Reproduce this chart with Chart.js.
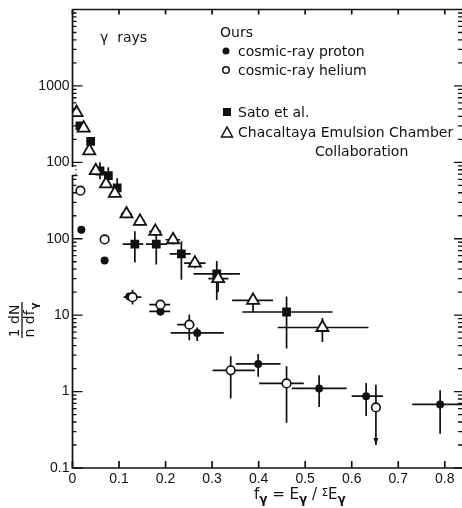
<!DOCTYPE html>
<html>
<head>
<meta charset="utf-8">
<script src="https://cdn.jsdelivr.net/npm/chart.js@4.4.1/dist/chart.umd.min.js"></script>
<style>
  html, body { margin: 0; padding: 0; background: #fff; }
</style>
</head>
<body>
<canvas id="gammaChart" width="462" height="508"></canvas>
<script>
// ---------------- data ----------------
const xTickValues = [0, 0.1, 0.2, 0.3, 0.4, 0.5, 0.6, 0.7, 0.8];
const xTickLabels = ['0', '0.1', '0.2', '0.3', '0.4', '0.5', '0.6', '0.7', '0.8'];
const yTickValues = [0.1, 1, 10, 100, 1000, 10000];
const yTickLabels = ['0.1', '1', '10', '100', '100', '1000'];

// Ours: cosmic-ray proton (filled circles)
const protonX   = [0.019, 0.069, 0.122, 0.189, 0.268, 0.399, 0.53, 0.631, 0.79];
const protonY   = [131, 52, 17.5, 11.2, 5.85, 2.3, 1.1, 0.87, 0.68];
const protonXLo = [null, null, null, 0.165, 0.211, 0.351, 0.471, 0.6, 0.73];
const protonXHi = [null, null, null, 0.21, 0.325, 0.447, 0.589, 0.667, 0.84];
const protonYLo = [null, null, null, 9.8, 4.6, 1.56, 0.63, 0.48, 0.28];
const protonYHi = [null, null, null, 12.6, 6.9, 3.1, 1.64, 1.3, 1.04];

// Ours: cosmic-ray helium (open circles)
const heliumX   = [0.017, 0.069, 0.129, 0.189, 0.251, 0.34, 0.46, 0.652];
const heliumY   = [426, 98, 17.2, 13.7, 7.5, 1.9, 1.28, 0.62];
const heliumXLo = [null, null, 0.11, 0.165, 0.225, 0.301, 0.401, null];
const heliumXHi = [null, null, 0.148, 0.21, 0.262, 0.392, 0.497, null];
const heliumYLo = [null, null, 13.8, 12, 4.7, 0.81, 0.39, 0.2];
const heliumYHi = [null, null, 21.5, 15.6, 10.2, 2.9, 2.15, 1.23];
const heliumUpperLimit = [false, false, false, false, false, false, false, true];

// Sato et al. (filled squares)
const satoX   = [0.016, 0.039, 0.059, 0.077, 0.096, 0.134, 0.18, 0.234, 0.31, 0.46];
const satoY   = [3000, 1875, 770, 668, 462, 85, 85, 63.5, 34.8, 11];
const satoXLo = [null, null, null, null, null, 0.108, 0.158, 0.209, 0.26, 0.365];
const satoXHi = [null, null, null, null, null, 0.152, 0.203, 0.254, 0.36, 0.559];
const satoYLo = [null, null, 600, 540, 390, 49, 46, 29, 15.8, 3.66];
const satoYHi = [null, null, 1000, 860, 620, 125, 117, 93, 51, 17.5];

// Chacaltaya Emulsion Chamber Collaboration (open triangles)
const chacX   = [0.0086, 0.024, 0.036, 0.05, 0.072, 0.091, 0.116, 0.145, 0.178, 0.216, 0.263, 0.313, 0.388, 0.537];
const chacY   = [4480, 2800, 1416, 777, 521, 393, 211, 169, 125, 97, 48, 30, 15.6, 6.9];
const chacXLo = [null, null, null, null, null, null, 0.104, 0.134, 0.165, 0.2, 0.24, 0.292, 0.343, 0.441];
const chacXHi = [null, null, null, null, null, null, 0.128, 0.156, 0.19, 0.231, 0.286, 0.335, 0.431, 0.636];
const chacYLo = [null, null, null, null, null, null, 185, 148, 108, 84, 41, 20, 10.8, 4.45];
const chacYHi = [null, null, null, null, null, null, 240, 192, 145, 112, 55, 34, 18, 9.2];

const INK = '#111';

function points(xs, ys, xLo, xHi, yLo, yHi, limit) {
  return xs.map((x, i) => ({
    x: x, y: ys[i],
    xLo: xLo[i], xHi: xHi[i], yLo: yLo[i], yHi: yHi[i],
    limit: limit ? limit[i] : false,
  }));
}

// error bars go under the markers
const errorBars = {
  id: 'errorBars',
  beforeDatasetsDraw(chart) {
    const { ctx, scales: { x, y } } = chart;
    ctx.save();
    ctx.strokeStyle = INK;
    ctx.fillStyle = INK;
    ctx.lineWidth = 1.7;
    chart.data.datasets.forEach(ds => {
      ds.data.forEach(p => {
        const px = x.getPixelForValue(p.x);
        const py = y.getPixelForValue(p.y);
        ctx.beginPath();
        if (p.xLo != null) {
          ctx.moveTo(x.getPixelForValue(p.xLo), py);
          ctx.lineTo(x.getPixelForValue(p.xHi), py);
        }
        if (p.yLo != null) {
          ctx.moveTo(px, y.getPixelForValue(p.yHi));
          ctx.lineTo(px, y.getPixelForValue(p.yLo));
        }
        ctx.stroke();
        if (p.limit) {
          const tip = y.getPixelForValue(p.yLo);
          ctx.beginPath();
          ctx.moveTo(px, tip);
          ctx.lineTo(px - 2.5, tip - 7);
          ctx.lineTo(px + 2.5, tip - 7);
          ctx.closePath();
          ctx.fill();
        }
      });
    });
    ctx.restore();
  }
};

// frame with inward ticks, axis break, titles and the in-plot key
const frame = {
  id: 'frame',
  afterDraw(chart) {
    const { ctx, chartArea: a, scales: { x, y } } = chart;
    ctx.save();
    ctx.strokeStyle = INK;
    ctx.lineWidth = 1.7;

    // box
    ctx.beginPath();
    ctx.moveTo(a.left, a.top); ctx.lineTo(a.left, a.bottom);
    ctx.lineTo(a.right, a.bottom);
    ctx.moveTo(a.left, a.top); ctx.lineTo(a.right, a.top);
    ctx.stroke();

    // x ticks
    ctx.beginPath();
    xTickValues.forEach(v => {
      const px = x.getPixelForValue(v);
      ctx.moveTo(px, a.bottom); ctx.lineTo(px, a.bottom - 7);
      ctx.moveTo(px, a.top); ctx.lineTo(px, a.top + 5);
    });
    ctx.stroke();

    // log ticks, left and right
    ctx.lineWidth = 1.3;
    ctx.beginPath();
    for (let e = -1; e <= 4; e++) {
      for (let k = 1; k <= 9; k++) {
        const v = k * Math.pow(10, e);
        if (v > y.max) continue;
        const py = y.getPixelForValue(v);
        const len = k === 1 ? 10 : 4;
        ctx.moveTo(a.left, py); ctx.lineTo(a.left + len, py);
        ctx.moveTo(a.right, py); ctx.lineTo(a.right - (k === 1 ? 8 : 4), py);
      }
    }
    ctx.stroke();

    // break in the left axis
    ctx.fillStyle = '#fff';
    ctx.fillRect(a.left - 3, 167, 6, 8);
    ctx.lineWidth = 1.4;
    ctx.beginPath();
    ctx.moveTo(a.left, 175.5); ctx.lineTo(a.left + 5, 175.5);
    ctx.stroke();

    ctx.fillStyle = INK;
    ctx.textBaseline = 'alphabetic';

    // x title: f_γ = E_γ / ΣE_γ
    const base = 499;
    let cx = 254;
    const put = (t, font, dy) => {
      ctx.font = font;
      ctx.fillText(t, cx, base + (dy || 0));
      cx += ctx.measureText(t).width;
    };
    const big = '15px "DejaVu Sans"';
    const sub = 'bold 12px "DejaVu Sans"';
    put('f', big); put('γ', sub, 4); put(' = ', big);
    put('E', big); put('γ', sub, 4); put(' / ', big);
    put('Σ', '10px "DejaVu Sans"', -3); put('E', big); put('γ', sub, 4);

    // y title: 1/n dN/df_γ, rotated
    ctx.save();
    ctx.translate(22, 321);
    ctx.rotate(-Math.PI / 2);
    ctx.font = '14px "DejaVu Sans"';
    ctx.textAlign = 'center';
    ctx.fillText('1 dN', 0, -3);
    ctx.fillText('n df', -3, 12);
    ctx.font = 'bold 10px "DejaVu Sans"';
    ctx.fillText('γ', 15, 16);
    ctx.lineWidth = 1.3;
    ctx.beginPath();
    ctx.moveTo(-17, 0); ctx.lineTo(19, 0);
    ctx.stroke();
    ctx.restore();

    // key
    ctx.font = '14px "DejaVu Sans"';
    ctx.textAlign = 'left';
    ctx.fillText('γ  rays', 100, 42);
    ctx.fillText('Ours', 220, 37);
    ctx.fillText('cosmic-ray proton', 238, 56);
    ctx.fillText('cosmic-ray helium', 238, 75);
    ctx.fillText('Sato et al.', 238, 117);
    ctx.fillText('Chacaltaya Emulsion Chamber', 238, 137);
    ctx.fillText('Collaboration', 315, 156);

    ctx.lineWidth = 1.5;
    ctx.beginPath(); ctx.arc(226, 51, 3.5, 0, Math.PI * 2); ctx.fill();
    ctx.beginPath(); ctx.arc(226, 70, 3.3, 0, Math.PI * 2); ctx.stroke();
    ctx.fillRect(223, 108, 8, 8);
    ctx.beginPath();
    ctx.moveTo(227, 127); ctx.lineTo(232.5, 137); ctx.lineTo(221.5, 137);
    ctx.closePath(); ctx.stroke();

    ctx.restore();
  }
};

const ctx = document.getElementById('gammaChart').getContext('2d');
new Chart(ctx, {
  type: 'scatter',
  data: {
    datasets: [
      {
        label: 'Chacaltaya Emulsion Chamber Collaboration',
        data: points(chacX, chacY, chacXLo, chacXHi, chacYLo, chacYHi),
        pointStyle: 'triangle',
        pointRadius: 7,
        backgroundColor: '#fff',
        borderColor: INK,
        borderWidth: 1.8,
      },
      {
        label: 'Sato et al.',
        data: points(satoX, satoY, satoXLo, satoXHi, satoYLo, satoYHi),
        pointStyle: 'rect',
        pointRadius: 6.2,
        backgroundColor: INK,
        borderColor: INK,
        borderWidth: 0,
      },
      {
        label: 'cosmic-ray helium',
        data: points(heliumX, heliumY, heliumXLo, heliumXHi, heliumYLo, heliumYHi, heliumUpperLimit),
        pointStyle: 'circle',
        pointRadius: 4.3,
        backgroundColor: '#fff',
        borderColor: INK,
        borderWidth: 1.6,
      },
      {
        label: 'cosmic-ray proton',
        data: points(protonX, protonY, protonXLo, protonXHi, protonYLo, protonYHi),
        pointStyle: 'circle',
        pointRadius: 4,
        backgroundColor: INK,
        borderColor: INK,
        borderWidth: 0,
      },
    ],
  },
  options: {
    responsive: false,
    animation: false,
    devicePixelRatio: 1,
    layout: {
      autoPadding: false,
      padding: { top: 9.5, right: 0, left: 0, bottom: 0 },
    },
    plugins: {
      legend: { display: false },
      tooltip: { enabled: false },
    },
    scales: {
      x: {
        type: 'linear',
        min: 0,
        max: 0.837,
        afterFit: s => { s.height = 40; s.paddingLeft = 0; s.paddingRight = 0; },
        afterBuildTicks: s => { s.ticks = xTickValues.map(v => ({ value: v })); },
        grid: { display: false, drawTicks: false },
        border: { display: false },
        ticks: {
          padding: 3,
          maxRotation: 0,
          autoSkip: false,
          color: INK,
          font: { family: 'Liberation Sans', size: 14 },
          callback: (v, i) => xTickLabels[i],
        },
      },
      y: {
        type: 'logarithmic',
        min: 0.1,
        max: 100000,
        afterFit: s => { s.width = 72.5; s.paddingTop = 0; s.paddingBottom = 0; },
        afterBuildTicks: s => { s.ticks = yTickValues.map(v => ({ value: v })); },
        grid: { display: false, drawTicks: false },
        border: { display: false },
        ticks: {
          padding: 3,
          autoSkip: false,
          color: INK,
          font: { family: 'Liberation Sans', size: 14 },
          callback: (v, i) => yTickLabels[i],
        },
      },
    },
  },
  plugins: [errorBars, frame],
});
</script>
</body>
</html>
